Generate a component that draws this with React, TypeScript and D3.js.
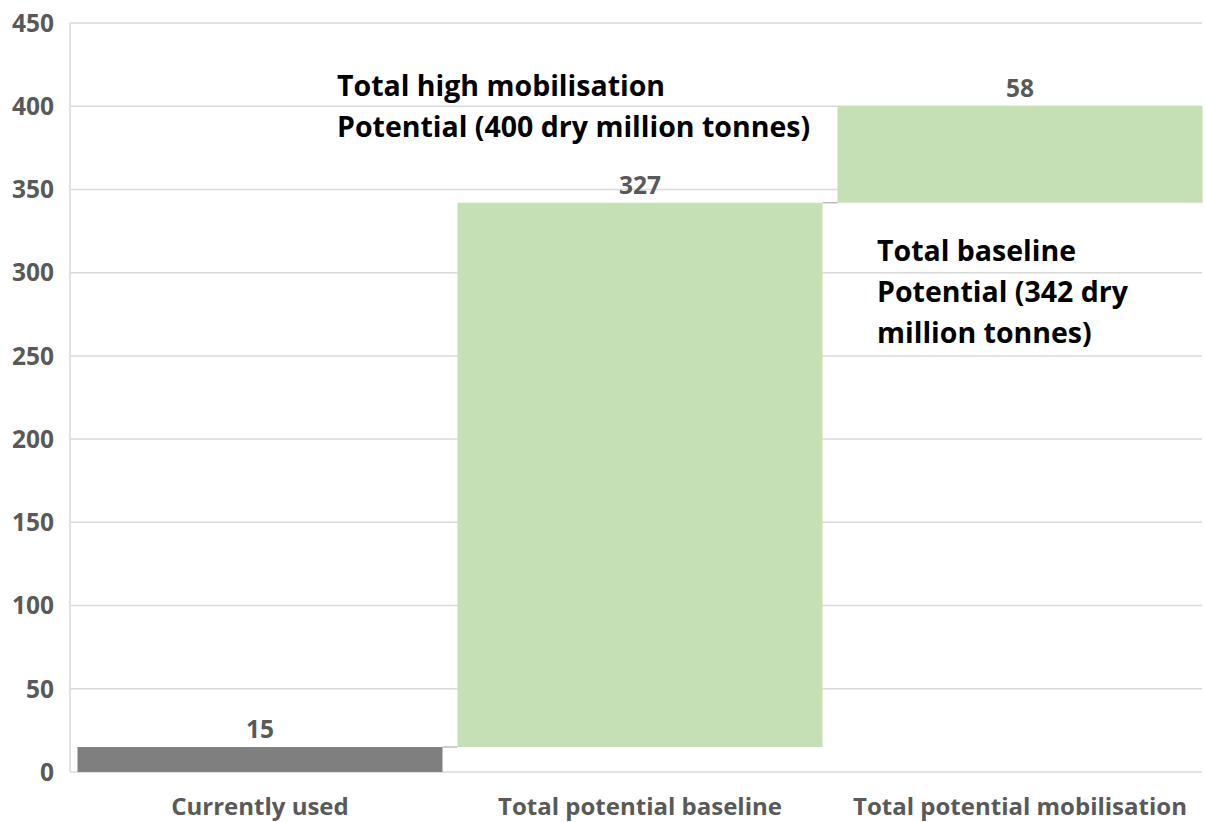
import React from "react";
import * as d3 from "d3";

const categories = ["Currently used", "Total potential baseline", "Total potential mobilisation"];
const increments = [15, 327, 58];
const barColors = ["#7f7f7f", "#c5e0b4", "#c5e0b4"];
const yTicks = [0, 50, 100, 150, 200, 250, 300, 350, 400, 450];
const noteHigh = ["Total high mobilisation", "Potential (400 dry million tonnes)"];
const noteBase = ["Total baseline", "Potential (342 dry", "million tonnes)"];

const W = 1205;
const H = 822;
const FONT = "'Open Sans', Lato, sans-serif";

export default function App() {
  const x = d3
    .scaleBand<string>()
    .domain(categories)
    .range([70, 1210])
    .paddingInner(0.0395)
    .paddingOuter(0.0197);
  const y = d3.scaleLinear().domain([0, 450]).range([772, 23]);

  let cum = 0;
  const bars = increments.map((v, i) => {
    const start = cum;
    cum += v;
    return { cat: categories[i], start, end: cum, value: v, color: barColors[i] };
  });

  const gridRight = 1202;
  const bw = x.bandwidth();

  return (
    <svg width={W} height={H} style={{ position: "absolute", left: 0, top: 0, background: "#fff" }}>
      <rect x={0} y={0} width={W} height={H} fill="#fff" />
      {yTicks.map((t) => (
        <g key={t}>
          <line x1={70} x2={gridRight} y1={y(t)} y2={y(t)} stroke="#d9d9d9" strokeWidth={1.5} />
          <text
            x={54}
            y={y(t)}
            dy="0.36em"
            textAnchor="end"
            fontFamily={FONT}
            fontWeight={700}
            fontSize={24.5}
            fill="#595959"
          >
            {t}
          </text>
        </g>
      ))}
      <line x1={70} x2={70} y1={y(450)} y2={y(0)} stroke="#d9d9d9" strokeWidth={1.5} />

      {bars.map((b, i) => (
        <g key={b.cat}>
          <rect
            x={x(b.cat)}
            y={y(b.end)}
            width={bw}
            height={y(b.start) - y(b.end)}
            fill={b.color}
          />
          <text
            x={(x(b.cat) as number) + bw / 2}
            y={y(b.end) - 9}
            textAnchor="middle"
            fontFamily={FONT}
            fontWeight={700}
            fontSize={24.5}
            fill="#595959"
          >
            {b.value}
          </text>
          {i < bars.length - 1 && (
            <line
              x1={(x(b.cat) as number) + bw}
              x2={x(bars[i + 1].cat) as number}
              y1={y(b.end)}
              y2={y(b.end)}
              stroke="#bfbfbf"
              strokeWidth={1.5}
            />
          )}
          <text
            x={(x(b.cat) as number) + bw / 2}
            y={815}
            textAnchor="middle"
            fontFamily={FONT}
            fontWeight={700}
            fontSize={24}
            fill="#595959"
          >
            {b.cat}
          </text>
        </g>
      ))}

      {noteHigh.map((s, i) => (
        <text
          key={s}
          x={337}
          y={96 + i * 41}
          fontFamily={FONT}
          fontWeight={700}
          fontSize={28.5}
          fill="#000"
        >
          {s}
        </text>
      ))}
      {noteBase.map((s, i) => (
        <text
          key={s}
          x={877}
          y={261 + i * 41}
          fontFamily={FONT}
          fontWeight={700}
          fontSize={28.5}
          fill="#000"
        >
          {s}
        </text>
      ))}
    </svg>
  );
}
